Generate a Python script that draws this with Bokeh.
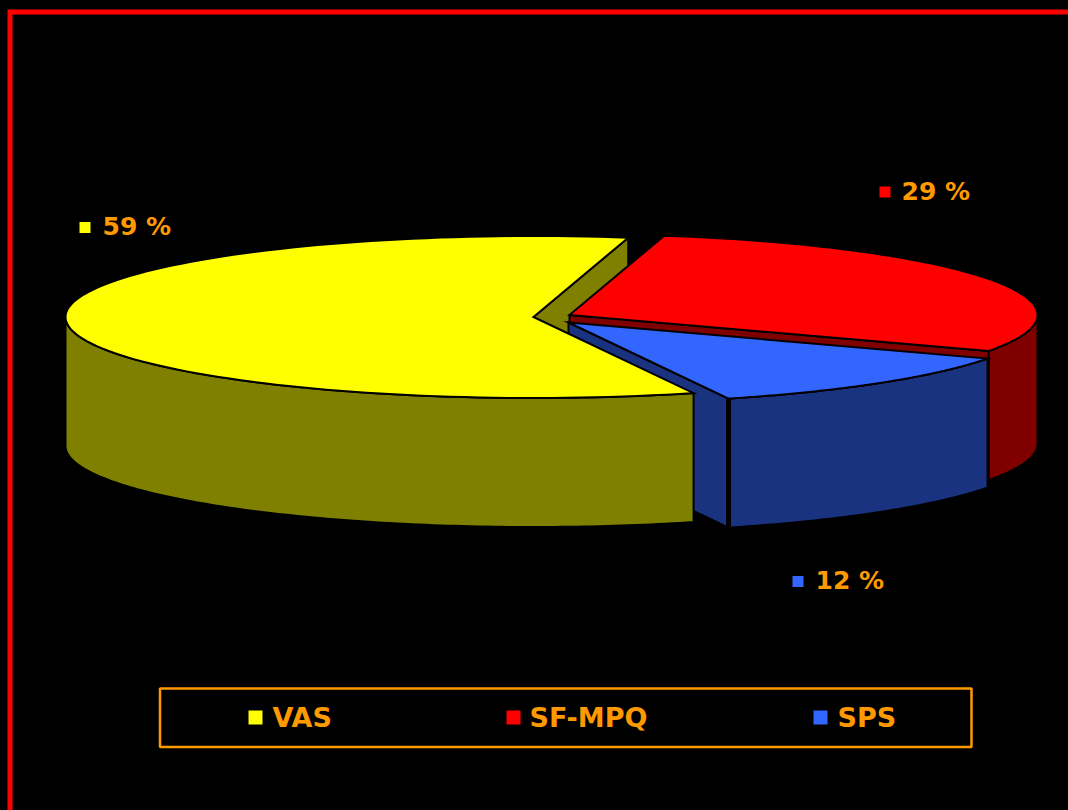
import numpy as np
from bokeh.plotting import figure
from bokeh.embed import file_html
from bokeh.resources import INLINE
from bokeh.core.properties import value

# ---- data ----
categories = ["VAS", "SF-MPQ", "SPS"]
shares = [58.8, 29.1, 12.1]        # labelled rounded
pct_labels = ["59 %", "29 %", "12 %"]

# ---- style ----
top_colors = ["#FFFF00", "#FF0000", "#3366FF"]
wall_colors = ["#808000", "#800000", "#1A3380"]
ORANGE = "#FF9900"
FONT = value("DejaVu Sans")
W, H = 1068, 810

# pie geometry (page pixels)
RX, RY, DEPTH = 468.0, 81.0, 129.0
START = 290.0                      # degrees, slices run clockwise
centers = [(533.0, 316.5), (569.0, 314.5), (568.0, 322.0)]

p = figure(width=W, height=H, x_range=(0, W), y_range=(H, 0),
           output_backend="svg", toolbar_location=None, min_border=0)
p.axis.visible = False
p.grid.visible = False
p.outline_line_color = None
p.background_fill_color = "#000000"
p.border_fill_color = "#000000"

# slice angle spans from the shares
ends = START - np.cumsum(shares) * 3.6
spans = list(zip([START] + list(ends[:-1]), ends))


def rim(i, a0, a1):
    t = np.radians(np.linspace(a0, a1, 120))
    cx, cy = centers[i]
    return cx + RX * np.cos(t), cy - RY * np.sin(t)


def top(i):
    a0, a1 = spans[i]
    x, y = rim(i, a0, a1)
    cx, cy = centers[i]
    return np.r_[cx, x], np.r_[cy, y]


def cut_wall(i, a):
    x, y = rim(i, a, a)
    cx, cy = centers[i]
    return ([cx, x[0], x[0], cx], [cy, y[0], y[0] + DEPTH, cy + DEPTH])


def rim_wall(i, a0, a1):
    x, y = rim(i, a0, a1)
    return np.r_[x, x[::-1]], np.r_[y, y[::-1] + DEPTH]


def poly(xy, color, lw=2.0):
    p.patch(xy[0], xy[1], fill_color=color, line_color="#000000",
            line_width=lw, line_join="miter")


VAS, MPQ, SPS = 0, 1, 2

# painter's order, back to front
poly(cut_wall(VAS, spans[VAS][1]), wall_colors[VAS])
poly(rim_wall(MPQ, 0, spans[MPQ][1]), wall_colors[MPQ])
poly(cut_wall(MPQ, spans[MPQ][1]), wall_colors[MPQ])
poly(top(MPQ), top_colors[MPQ])
poly(cut_wall(SPS, spans[SPS][1]), wall_colors[SPS])
poly(rim_wall(SPS, spans[SPS][0], spans[SPS][1]), wall_colors[SPS])
sx, sy = rim(SPS, spans[SPS][1], spans[SPS][1])
p.line([sx[0], sx[0]], [sy[0], sy[0] + DEPTH], line_color="#000000", line_width=5)
poly(top(SPS), top_colors[SPS])
poly(rim_wall(VAS, 180, spans[VAS][0]), wall_colors[VAS])
poly(top(VAS), top_colors[VAS])

# frame
p.line([9.5, 9.5, W + 5], [H + 5, 11.5, 11.5], line_color="#FF0000", line_width=5,
       line_join="miter")

# data labels: marker + percentage
label_sq_x = [84.5, 884.5, 797.5]
label_tx_x = [102, 901, 815]
label_y = [227, 191.5, 581]
p.rect(label_sq_x, label_y, width=11, height=11, fill_color=top_colors,
       line_color=None)
p.text(label_tx_x, label_y, text=pct_labels, text_color=ORANGE, text_font=FONT,
       text_font_style="bold", text_font_size="25px", text_baseline="middle",
       text_align="left", y_offset=-1)

# legend
p.quad(left=[159.5], right=[971], top=[688], bottom=[746.5], fill_color=None,
       line_color=ORANGE, line_width=2.5)
legend_sq_x = [255, 513, 820]
legend_tx_x = [272, 529, 837]
legend_y = [717] * 3
p.rect(legend_sq_x, legend_y, width=14, height=14, fill_color=top_colors,
       line_color=None)
p.text(legend_tx_x, legend_y, text=categories, text_color=ORANGE, text_font=FONT,
       text_font_style="bold", text_font_size="27px", text_baseline="middle",
       text_align="left")

page = """{% block postamble %}<style>html,body{background:#000;margin:0;padding:0;overflow:hidden}</style>{% endblock %}
"""
open("out.html", "w").write(file_html(p, INLINE, template=page))
